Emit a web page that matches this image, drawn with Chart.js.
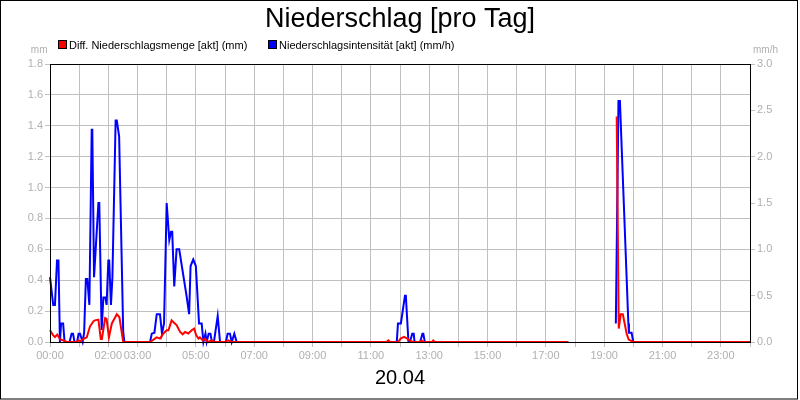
<!DOCTYPE html>
<html>
<head>
<meta charset="utf-8">
<title>Niederschlag [pro Tag]</title>
<script src="https://cdn.jsdelivr.net/npm/chart.js@4.4.1/dist/chart.umd.min.js"></script>
<style>
  html, body { margin: 0; padding: 0; background: #fff; }
  #wrap { width: 800px; height: 400px; position: relative; }
</style>
</head>
<body>
<div id="wrap"><canvas id="rainChart" width="800" height="400"></canvas></div>
<script>
// hours of the day (decimal) and readings
const redHours = [0, 0.11, 0.17, 0.25, 0.34, 0.46, 0.57, 0.89, 0.97, 1.03, 1.14, 1.26, 1.37, 1.49, 1.54, 1.66, 1.74, 1.78, 1.89, 1.94,
  2.02, 2.12, 2.29, 2.38, 2.51, 3.43, 3.66, 3.77, 3.89, 4.00, 4.06, 4.17, 4.26, 4.34, 4.46, 4.55, 4.63, 4.74, 4.86, 4.94,
  5.01, 5.09, 5.14, 5.24, 5.31, 5.43, 5.54, 5.66, 6.00, 6.11, 6.23, 11.54, 11.60, 11.66, 11.94, 12.02, 12.14, 12.25, 12.37, 12.46,
  12.69, 12.74, 12.80, 13.10, 13.14, 13.20, 17.77, 18.5, 19.43, 19.50, 19.57, 19.64, 19.77, 19.84, 20.00, 24];
const redValues = [0.076, 0.043, 0.032, 0.048, 0.018, 0.01, 0, 0, 0.01, 0.005, 0.018, 0.03, 0.10, 0.135, 0.14, 0.145, 0.02, 0.02, 0.155, 0.15,
  0.03, 0.12, 0.18, 0.16, 0, 0, 0.03, 0.022, 0.055, 0.076, 0.076, 0.14, 0.123, 0.11, 0.065, 0.05, 0.065, 0.055, 0.076, 0.087,
  0.045, 0.022, 0.03, 0.01, 0.02, 0, 0.01, 0, 0, 0.01, 0, 0, 0.01, 0, 0, 0.022, 0.033, 0.022, 0.005, 0,
  0, 0.01, 0, 0, 0.01, 0, 0, null, 1.46, 0.087, 0.18, 0.18, 0.055, 0.016, 0, 0];

const blueHours = [0, 0.11, 0.17, 0.24, 0.29, 0.34, 0.38, 0.45, 0.50, 0.67, 0.74, 0.79, 0.84, 0.93, 0.98, 1.03, 1.12, 1.17, 1.23, 1.28,
  1.35, 1.43, 1.45, 1.51, 1.66, 1.69, 1.77, 1.83, 1.90, 1.94, 2.00, 2.03, 2.09, 2.14, 2.25, 2.29, 2.37, 2.51, 2.55, 3.43,
  3.49, 3.58, 3.66, 3.77, 3.84, 3.91, 4.00, 4.09, 4.15, 4.19, 4.26, 4.34, 4.43, 4.54, 4.63, 4.69, 4.77, 4.82, 4.91, 5.00,
  5.11, 5.20, 5.26, 5.33, 5.37, 5.44, 5.50, 5.55, 5.62, 5.75, 5.83, 6.03, 6.09, 6.17, 6.23, 6.32, 6.40, 11.89, 11.93, 12.03,
  12.17, 12.20, 12.29, 12.34, 12.42, 12.47, 12.50, 12.69, 12.77, 12.80, 12.85, 17.77, 18.5, 19.40, 19.49, 19.54, 19.83, 19.85, 19.94, 20.00, 24];
const blueValues = [0.70, 0.40, 0.40, 0.88, 0.88, 0, 0.20, 0.20, 0, 0, 0.09, 0.09, 0, 0, 0.09, 0.09, 0, 0.10, 0.68, 0.68,
  0.40, 2.29, 2.29, 0.70, 1.50, 1.50, 0.13, 0.48, 0.48, 0.40, 0.88, 0.88, 0.40, 0.70, 2.39, 2.39, 2.22, 0.11, 0, 0,
  0.09, 0.10, 0.30, 0.30, 0.09, 0.20, 1.50, 1.10, 1.19, 1.19, 0.60, 1.00, 1.00, 0.78, 0.60, 0.48, 0.30, 0.82, 0.89, 0.82,
  0.20, 0.20, 0, 0.09, 0, 0.09, 0.09, 0, 0, 0.28, 0, 0, 0.09, 0.09, 0, 0.09, 0, 0, 0.20, 0.20,
  0.50, 0.50, 0, 0, 0.09, 0.09, 0, 0, 0.09, 0.09, 0, 0, null, 0.20, 2.60, 2.60, 0.20, 0.10, 0.10, 0, 0];

// hours that carry a label on the time axis
const labelHours = [0, 2, 3, 5, 7, 9, 11, 13, 15, 17, 19, 21, 23];

const seriesNames = ['Diff. Niederschlagsmenge [akt] (mm)', 'Niederschlagsintensität [akt] (mm/h)'];
const seriesColors = ['#ff0000', '#0000ff'];

const FONT = '"Liberation Sans", Arial, sans-serif';
const GRID = '#c0c0c0';
const TICK_TEXT = '#b0b0b0';

Chart.defaults.font.family = FONT;
Chart.defaults.font.size = 11;

function toPoints(hours, values) {
  return hours.map((h, i) => ({ x: h, y: values[i] }));
}

function pad2(n) {
  return (n < 10 ? '0' : '') + n;
}

// title, legend, units and frames around the plot
const decorations = {
  id: 'decorations',
  afterDraw(chart) {
    const c = chart.ctx;
    const a = chart.chartArea;
    c.save();

    c.strokeStyle = '#000';
    c.lineWidth = 1;
    c.strokeRect(Math.round(a.left) + 0.5, Math.round(a.top) + 0.5,
      Math.round(a.right - a.left), Math.round(a.bottom - a.top));
    c.strokeRect(0.5, 0.5, 797, 398.5);

    c.fillStyle = '#000';
    c.font = '27px ' + FONT;
    c.textAlign = 'center';
    c.textBaseline = 'alphabetic';
    c.fillText('Niederschlag [pro Tag]', 400, 27);

    const legendX = [58, 268];
    c.font = '11px ' + FONT;
    c.textAlign = 'left';
    seriesNames.forEach((name, i) => {
      c.fillStyle = '#000';
      c.fillRect(legendX[i], 40, 9, 9);
      c.fillStyle = seriesColors[i];
      c.fillRect(legendX[i] + 1, 41, 7, 7);
      c.fillStyle = '#000';
      c.fillText(name, legendX[i] + 11, 48.5);
    });

    c.fillStyle = TICK_TEXT;
    c.font = '10px ' + FONT;
    c.textAlign = 'right';
    c.fillText('mm', 47.5, 53);
    c.textAlign = 'left';
    c.fillText('mm/h', 753, 53);
    c.restore();
  }
};

const ctx = document.getElementById('rainChart').getContext('2d');

const rainChart = new Chart(ctx, {
  type: 'line',
  data: {
    datasets: [{
      label: seriesNames[0],
      data: toPoints(redHours, redValues),
      borderColor: seriesColors[0],
      backgroundColor: seriesColors[0],
      borderWidth: 2,
      pointRadius: 0,
      tension: 0,
      yAxisID: 'y',
      clip: false
    }, {
      label: seriesNames[1],
      data: toPoints(blueHours, blueValues),
      borderColor: seriesColors[1],
      backgroundColor: seriesColors[1],
      borderWidth: 2,
      pointRadius: 0,
      tension: 0,
      yAxisID: 'y1',
      clip: false
    }]
  },
  options: {
    responsive: false,
    animation: false,
    events: [],
    layout: { padding: { top: 64, left: 0, right: 0, bottom: 0 } },
    plugins: {
      legend: { display: false },
      title: { display: false },
      tooltip: { enabled: false }
    },
    scales: {
      x: {
        type: 'linear',
        min: 0,
        max: 24,
        afterFit: (scale) => { scale.height = 58; },
        ticks: {
          stepSize: 1,
          autoSkip: false,
          maxRotation: 0,
          color: TICK_TEXT,
          padding: 2,
          callback: (v) => labelHours.includes(v) ? pad2(v) + ':00' : ''
        },
        grid: { color: GRID, tickLength: 5 },
        border: { display: false },
        title: {
          display: true,
          text: '20.04',
          color: '#000',
          font: { size: 20 },
          padding: { top: 0, bottom: 10 }
        }
      },
      y: {
        position: 'left',
        min: 0,
        max: 1.8,
        afterFit: (scale) => { scale.width = 50; },
        ticks: {
          stepSize: 0.2,
          color: TICK_TEXT,
          padding: 2,
          callback: (v) => v.toFixed(1)
        },
        grid: { color: GRID, tickLength: 5 },
        border: { display: false }
      },
      y1: {
        position: 'right',
        min: 0,
        max: 3,
        afterFit: (scale) => { scale.width = 50; },
        ticks: {
          stepSize: 0.5,
          color: TICK_TEXT,
          padding: 2,
          callback: (v) => v.toFixed(1)
        },
        grid: { color: GRID, tickLength: 5, drawOnChartArea: false },
        border: { display: false }
      }
    }
  },
  plugins: [decorations]
});
</script>
</body>
</html>
